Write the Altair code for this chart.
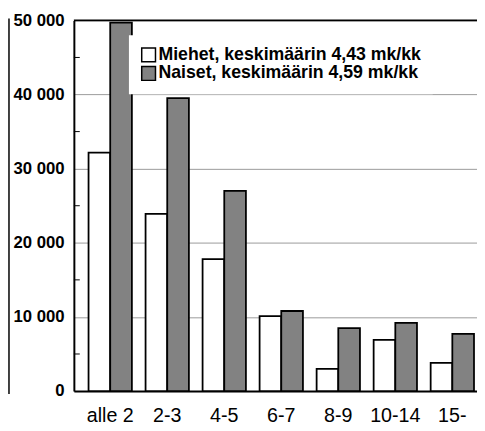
import altair as alt
import pandas as pd

categories = ["alle 2", "2-3", "4-5", "6-7", "8-9", "10-14", "15-"]
series = ["Miehet, keskimäärin 4,43 mk/kk", "Naiset, keskimäärin 4,59 mk/kk"]
miehet = [32150, 23900, 17800, 10100, 3000, 6900, 3800]
naiset = [49700, 39500, 27000, 10800, 8500, 9200, 7700]
y_ticks = [0, 10000, 20000, 30000, 40000, 50000]
minor_ticks = [5000, 15000, 25000, 35000, 45000]
y_top = [50000]

rows = []
for c, m, n in zip(categories, miehet, naiset):
    rows.append({"ryhma": c, "sarja": series[0], "arvo": m})
    rows.append({"ryhma": c, "sarja": series[1], "arvo": n})
df = pd.DataFrame(rows)

FONT = "Liberation Sans"
y_scale = alt.Scale(domain=[0, 50000], nice=False, zero=True)

bars = alt.Chart(df).mark_bar(stroke="black", strokeWidth=1.8).encode(
    x=alt.X(
        "ryhma:N", sort=categories, title=None,
        scale=alt.Scale(paddingInner=0.24, paddingOuter=0.155, align=0.83),
        axis=alt.Axis(labelAngle=0, labelFont=FONT, labelFontSize=20,
                      labelColor="black", labelPadding=15, ticks=False,
                      domainColor="black", domainWidth=2, grid=False),
    ),
    xOffset=alt.XOffset("sarja:N", sort=series,
                        scale=alt.Scale(paddingInner=0, paddingOuter=0)),
    y=alt.Y(
        "arvo:Q", scale=y_scale, title=None,
        axis=alt.Axis(values=y_ticks,
                      labelExpr="replace(format(datum.value, ','), ',', ' ')",
                      labelFont=FONT, labelFontSize=17, labelFontWeight="bold",
                      labelColor="black", labelPadding=10, ticks=False,
                      domainColor="black", domainWidth=2,
                      grid=True, gridColor="#9a9a9a", gridWidth=1),
    ),
    fill=alt.Fill(
        "sarja:N", sort=series,
        scale=alt.Scale(domain=series, range=["white", "#828282"]),
        legend=alt.Legend(title=None, orient="none", legendX=56, legendY=15,
                          fillColor="white", padding=11, symbolType="square",
                          symbolSize=196, symbolStrokeColor="black",
                          symbolStrokeWidth=1.5, symbolOpacity=1,
                          labelFont=FONT, labelFontSize=18,
                          labelFontWeight="bold", labelColor="black",
                          labelLimit=400, rowPadding=-3, labelOffset=1),
    ),
)

minor = alt.Chart(pd.DataFrame({"arvo": minor_ticks})).mark_rule(
    color="black", strokeWidth=1
).encode(
    y=alt.Y("arvo:Q", scale=y_scale, title=None),
    x=alt.value(0), x2=alt.value(6),
)

frame_top = alt.Chart(pd.DataFrame({"arvo": y_top})).mark_rule(
    color="black", strokeWidth=2
).encode(
    y=alt.Y("arvo:Q", scale=y_scale, title=None),
)

left_line = alt.Chart(pd.DataFrame({"arvo": y_top})).mark_rule(
    color="black", strokeWidth=1.5
).encode(
    x=alt.value(-66), y=alt.value(-2), y2=alt.value(380),
)

chart = alt.layer(minor, bars, frame_top, left_line).properties(
    width=410, height=377,
    padding={"left": 67, "top": 9, "right": 0, "bottom": 36},
    autosize=alt.AutoSizeParams(type="none"),
).configure_view(stroke=None)

chart.save("out.html", embed_options={"renderer": "svg", "actions": False})
